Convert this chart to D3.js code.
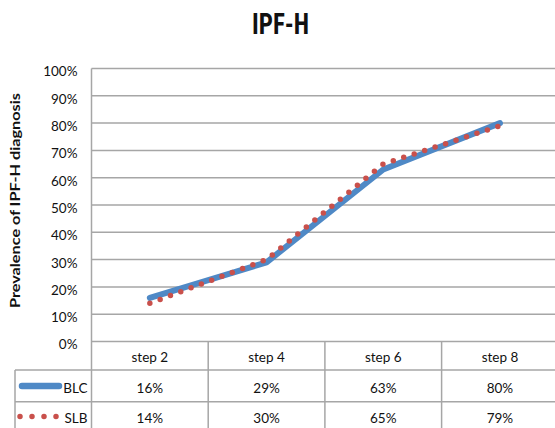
<!DOCTYPE html>
<html><head><meta charset="utf-8">
<script src="https://cdn.jsdelivr.net/npm/d3@7"></script>
<style>
html,body{margin:0;padding:0;background:#fff;}
svg{display:block;}
text{font-family:Lato,"Open Sans",sans-serif;fill:#111;}
</style></head>
<body>
<svg id="chart" width="555" height="428"></svg>
<script>
const categories = ["step 2","step 4","step 6","step 8"];
const seriesNames = ["BLC","SLB"];
const blcValues = [16,29,63,80];
const slbValues = [14,30,65,79];
const yTicks = [0,10,20,30,40,50,60,70,80,90,100];
const titleText = "IPF-H";
const yTitleText = "Prevalence of IPF-H diagnosis";

const svg = d3.select("#chart");
const plotLeft = 91.5, plotRight = 558.3, plotTop = 68.5, plotBottom = 341.5;
const tableLeft = 15;
const rowBottoms = [370, 401.7, 433.4];
const blue = "#4F89C6", red = "#C9504B", grid = "#A6A6A6";
const fs = "13.5px";

const x = d3.scaleBand().domain(categories).range([plotLeft, plotRight]).padding(0);
const y = d3.scaleLinear().domain([0,100]).range([plotBottom, plotTop]);

// title
svg.append("text").attr("x", 280.5).attr("y", 34.3).attr("text-anchor","middle")
  .style("font-family",'"Liberation Sans Narrow","Roboto Condensed",Lato,sans-serif')
  .style("font-size","30px").style("font-weight","bold")
  .attr("textLength",57).attr("lengthAdjust","spacingAndGlyphs").text(titleText);

// y title
svg.append("text").attr("transform","translate(19.5,200.5) rotate(-90)")
  .attr("text-anchor","middle").style("font-size",fs).style("font-weight","bold")
  .attr("textLength",215).attr("lengthAdjust","spacingAndGlyphs")
  .text(yTitleText);

// gridlines
svg.append("g").selectAll("line").data(yTicks.filter(d=>d>0)).join("line")
  .attr("x1", plotLeft).attr("x2", plotRight)
  .attr("y1", d=>y(d)).attr("y2", d=>y(d))
  .attr("stroke", grid).attr("stroke-width", 1.5);

// y axis via d3 axis (labels only)
const yAxis = svg.append("g").attr("transform",`translate(${plotLeft},0)`)
  .call(d3.axisLeft(y).tickValues(yTicks).tickFormat(d=>d+"%").tickSize(0).tickPadding(14));
yAxis.select(".domain").remove();
yAxis.selectAll("text").style("font-size",fs).style("font-family","Lato,sans-serif").attr("dy","0.55em").attr("fill","#111");

// table lines
const tg = svg.append("g").attr("stroke", grid).attr("stroke-width",1.5);
tg.append("line").attr("x1",plotLeft).attr("x2",plotLeft).attr("y1",plotTop).attr("y2",rowBottoms[2]);
tg.append("line").attr("x1",plotLeft).attr("x2",plotRight).attr("y1",plotBottom).attr("y2",plotBottom);
rowBottoms.forEach(rb=>{
  tg.append("line").attr("x1",tableLeft).attr("x2",plotRight).attr("y1",rb).attr("y2",rb);
});
tg.append("line").attr("x1",tableLeft).attr("x2",tableLeft).attr("y1",rowBottoms[0]).attr("y2",rowBottoms[2]);
categories.forEach(c=>{
  const xr = x(c)+x.bandwidth();
  tg.append("line").attr("x1",xr).attr("x2",xr).attr("y1",plotBottom).attr("y2",rowBottoms[2]);
});

// header labels
svg.append("g").selectAll("text").data(categories).join("text")
  .attr("x", d=>x(d)+x.bandwidth()/2).attr("y", 362).attr("text-anchor","middle")
  .style("font-size",fs).text(d=>d);

// value rows
const rows = [{name:seriesNames[0], vals:blcValues, yb:392.5},{name:seriesNames[1], vals:slbValues, yb:423}];
rows.forEach(r=>{
  svg.append("g").selectAll("text").data(r.vals).join("text")
    .attr("x",(d,i)=>x(categories[i])+x.bandwidth()/2).attr("y", r.yb).attr("text-anchor","middle")
    .style("font-size",fs).text(d=>d+"%");
  svg.append("text").attr("x", 87.5).attr("y", r.yb).attr("text-anchor","end")
    .style("font-size",fs).text(r.name);
});

// legend keys
svg.append("line").attr("x1",22).attr("x2",59).attr("y1",386).attr("y2",386)
  .attr("stroke",blue).attr("stroke-width",6.5).attr("stroke-linecap","round");
svg.append("line").attr("x1",20).attr("x2",57).attr("y1",416.5).attr("y2",416.5)
  .attr("stroke",red).attr("stroke-width",5.5).attr("stroke-linecap","round")
  .attr("stroke-dasharray","0 12");

// series lines
const line = d3.line().x((d,i)=>x(categories[i])+x.bandwidth()/2).y(d=>y(d));
svg.append("path").datum(blcValues).attr("d",line).attr("fill","none")
  .attr("stroke",blue).attr("stroke-width",6).attr("stroke-linecap","round").attr("stroke-linejoin","round");
svg.append("path").datum(slbValues).attr("d",line).attr("fill","none")
  .attr("stroke",red).attr("stroke-width",5.5).attr("stroke-linecap","round")
  .attr("stroke-dasharray","0 11");
</script>
</body></html>
